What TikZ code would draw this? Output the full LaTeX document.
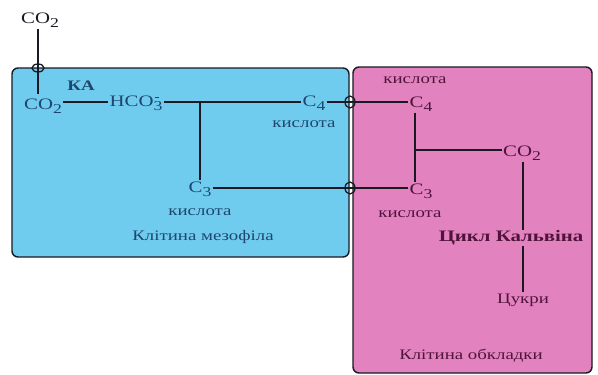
\documentclass[tikz,border=0pt]{standalone}
\usepackage{fontspec}
\setmainfont[FakeStretch=1.3]{Liberation Serif}
\usetikzlibrary{calc}
\definecolor{meso}{RGB}{112,204,238}
\definecolor{obk}{RGB}{226,130,190}
\definecolor{bluetxt}{RGB}{30,70,110}
\definecolor{pinktxt}{RGB}{80,20,60}
\definecolor{ln}{RGB}{25,25,35}
\newcommand\chsub[1]{\raisebox{-0.55ex}{\scalebox{0.85}{#1}}}
\tikzset{
  cell/.style={draw=ln, line width=1.4pt, rounded corners=6pt},
  conn/.style={draw=ln, line width=1.8pt},
  lbl/.style={inner sep=1pt, font=\fontsize{16}{18}\selectfont},
  small/.style={inner sep=1pt, font=\fontsize{14.5}{16}\selectfont},
  title/.style={inner sep=1pt, font=\fontsize{14.5}{16}\selectfont},
}
\begin{document}
\begin{tikzpicture}[x=1pt,y=-1pt]
\useasboundingbox (0,0) rectangle (598,375);
\fill[white] (0,0) rectangle (598,375);
% cells
\path[cell, fill=meso] (12,68) rectangle (349,257);
\path[cell, fill=obk] (353,67) rectangle (592,373);
% texts mesophyll
\node[lbl, text=ln] (co2top) at (40,20) {CO\chsub{2}};
\node[lbl, text=bluetxt] (co2a) at (43,106) {CO\chsub{2}};
\node[lbl, text=bluetxt, font=\bfseries\fontsize{14.5}{16}\selectfont] (ka) at (81,86) {КА};
\node[lbl, text=bluetxt] (hco3) at (136,103) {HCO\makebox[0pt][l]{\hspace{1pt}\raisebox{1.15ex}{\rule{4.5pt}{0.7pt}}}\chsub{3}};
\node[lbl, text=bluetxt] (c4a) at (314,103) {C\chsub{4}};
\node[small, text=bluetxt] (k1) at (304,124) {кислота};
\node[lbl, text=bluetxt] (c3a) at (200,189) {C\chsub{3}};
\node[small, text=bluetxt] (k2) at (200,212) {кислота};
\node[title, text=bluetxt] (meso) at (203,237) {Клітина мезофіла};
% texts bundle sheath
\node[small, text=pinktxt] (k3) at (415,80) {кислота};
\node[lbl, text=pinktxt] (c4b) at (421,104) {C\chsub{4}};
\node[lbl, text=pinktxt] (c3b) at (421,191) {C\chsub{3}};
\node[small, text=pinktxt] (k4) at (410,214) {кислота};
\node[lbl, text=pinktxt] (co2b) at (522,153) {CO\chsub{2}};
\node[lbl, text=pinktxt, font=\bfseries\fontsize{16}{18}\selectfont] (calvin) at (511,238) {Цикл Кальвіна};
\node[title, text=pinktxt] (sugar) at (523,300) {Цукри};
\node[title, text=pinktxt] (obkl) at (471,356) {Клітина обкладки};
% coordinates
\coordinate (j1) at (200,102);
\coordinate (j2) at (415,150);
\coordinate (m1) at (38,68);
\coordinate (m2) at (350,102);
\coordinate (m3) at (350,188);
% connectors
\draw[conn] (co2top.south -| m1) -- (38,94);
\draw[conn] (co2a.east |- 0,102) -- (hco3.west |- 0,102);
\draw[conn] (hco3.east |- 0,102) -- (c4a.west |- 0,102);
\draw[conn] (j1) -- (c3a.north -| j1);
\draw[conn] (c4a.east |- 0,102) -- (c4b.west |- 0,102);
\draw[conn] (c3a.east |- 0,188) -- (c3b.west |- 0,188);
\draw[conn] (c4b.south -| j2) -- (c3b.north -| j2);
\draw[conn] (j2) -- (co2b.west |- j2);
\draw[conn] (co2b.south -| 523,0) -- (calvin.north -| 523,0);
\draw[conn] (calvin.south -| 523,0) -- (sugar.north -| 523,0);
% membrane passage markers
\draw[draw=ln, line width=1.3pt] (m1) ellipse (6 and 4);
\draw[draw=ln, line width=1.3pt] (m2) ellipse (5 and 6);
\draw[draw=ln, line width=1.3pt] (m3) ellipse (5 and 6);
\end{tikzpicture}
\end{document}
